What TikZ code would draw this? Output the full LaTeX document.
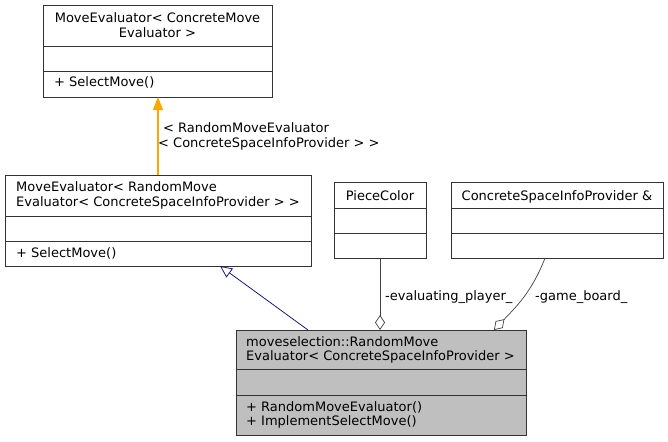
\documentclass[tikz,border=0pt]{standalone}
\usepackage{fontspec}
\setmainfont{DejaVu Sans}
\usetikzlibrary{arrows.meta}
\definecolor{inhblue}{RGB}{25,25,112}
\definecolor{tmplorange}{RGB}{255,165,0}
\begin{document}
\begin{tikzpicture}[x=1pt,y=-1pt,
  box/.style={draw=black!80, line width=0.9pt, anchor=north west, inner sep=0pt, fill=white},
  divline/.style={draw=black!80, line width=0.9pt},
  txt/.style={inner sep=0pt, font=\fontsize{13}{15}\selectfont, anchor=base},
  txtl/.style={txt, anchor=base west},
  assoc/.style={draw=black!75, line width=0.7pt},
]
\useasboundingbox (0,0) rectangle (668,441);
% top box
\node[box, minimum width=229, minimum height=92] (top) at (43,5) {};
\draw[divline] (43,46) -- (272,46) (43,71) -- (272,71);
\node[txt] (t1) at (157.5,23) {MoveEvaluator< ConcreteMove};
\node[txt] (t2) at (157.5,38) {Evaluator >};
\node[txtl] (t3) at (54,87) {+ SelectMove()};
% middle box
\node[box, minimum width=306, minimum height=91] (mid) at (5,175) {};
\draw[divline] (5,216) -- (311,216) (5,241) -- (311,241);
\node[txtl] (m1) at (16,191) {MoveEvaluator< RandomMove};
\node[txtl] (m2) at (16,206) {Evaluator< ConcreteSpaceInfoProvider > >};
\node[txtl] (m3) at (16,257) {+ SelectMove()};
% piece color
\node[box, minimum width=92, minimum height=76] (pc) at (334,182) {};
\draw[divline] (334,208) -- (426,208) (334,233) -- (426,233);
\node[txt] (p1) at (380,200) {PieceColor};
% concrete space
\node[box, minimum width=212, minimum height=76] (cs) at (451,182) {};
\draw[divline] (451,208) -- (663,208) (451,233) -- (663,233);
\node[txt] (c1) at (557,200) {ConcreteSpaceInfoProvider \&};
% main
\node[box, fill=black!25, minimum width=290, minimum height=105] (main) at (236,330) {};
\draw[divline] (236,369) -- (526,369) (236,395) -- (526,395);
\node[txtl] (r1) at (246,346) {moveselection::RandomMove};
\node[txtl] (r2) at (246,360) {Evaluator< ConcreteSpaceInfoProvider >};
\node[txtl] (r3) at (246,411) {+ RandomMoveEvaluator()};
\node[txtl] (r4) at (246,425) {+ ImplementSelectMove()};
% edges
\coordinate (oa) at (158,175);
\coordinate (ob) at (158,97);
\draw[draw=tmplorange, line width=1.1pt, -{Triangle[length=13pt,width=10pt]}] (oa) -- (ob);
\node[txtl] (l1) at (163,132) {< RandomMoveEvaluator};
\node[txtl] (l2) at (158,147) {< ConcreteSpaceInfoProvider > >};
\coordinate (ia) at (308,330);
\coordinate (ib) at (220,266);
\draw[draw=inhblue, line width=0.8pt, -{Triangle[open,length=12pt,width=11pt]}] (ia) -- (ib);
\coordinate (pa) at (380,258);
\coordinate (pb) at (380,330);
\draw[assoc, -{Diamond[open,length=15pt,width=10pt]}] (pa) -- (pb);
\node[txtl] (e1) at (385,300) {-evaluating\_player\_};
\coordinate (ga) at (545,258);
\coordinate (gb) at (494,330);
\draw[assoc, -{Diamond[open,length=15pt,width=10pt]}] (ga) .. controls (532,292) and (515,308) .. (gb);
\node[txtl] (e2) at (535,300) {-game\_board\_};
\end{tikzpicture}
\end{document}
